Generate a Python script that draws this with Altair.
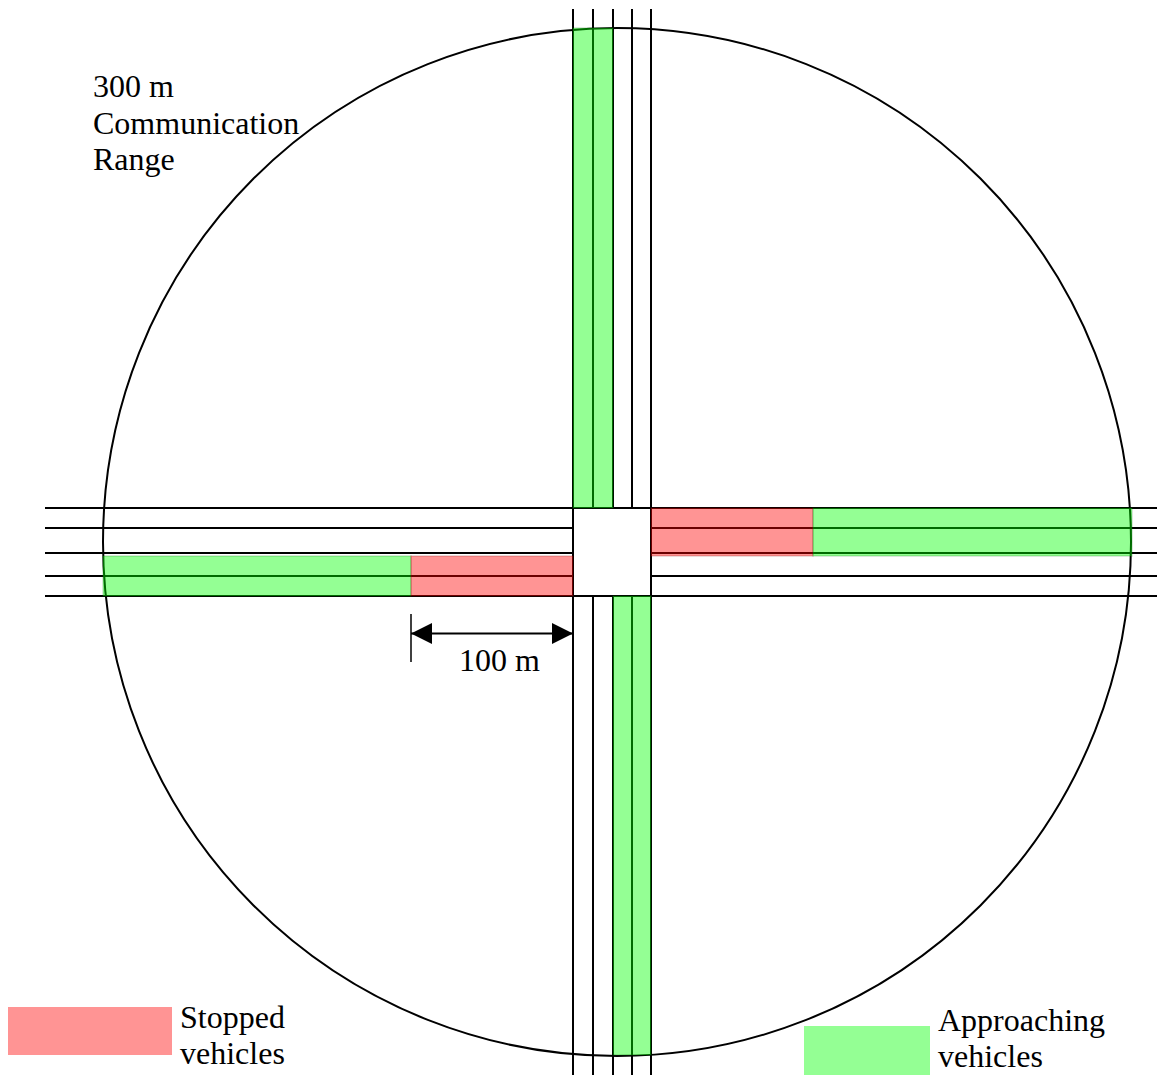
import altair as alt
import pandas as pd

# ---- diagram data (units: reference picture pixels) ----
# road lane lines (edges + dividers)
road_x = [573, 593, 613, 632, 651]      # north-south road
road_y = [508, 528, 553, 576, 596]      # east-west road
road_top, road_bottom = 9, 1084
road_left, road_right = 45, 1165

# communication range circle
range_cx, range_cy, range_r = 617, 542, 514

# vehicle zones along each approach
zone_status = ["Approaching", "Approaching", "Stopped", "Approaching", "Approaching", "Stopped"]
zone_x1 = [573, 613, 651, 813, 103, 411]
zone_x2 = [613, 651, 813, 1132, 411, 573]
zone_y1 = [28, 596, 508, 508, 556, 556]
zone_y2 = [508, 1055, 556, 556, 596, 596]

# 100 m dimension
dim_x1, dim_x2, dim_y = 411, 573, 633.5
dim_tick_y1, dim_tick_y2 = 614, 662

# legend patches
leg_status = ["Stopped", "Approaching"]
leg_x1 = [7, 804]
leg_x2 = [172, 930]
leg_y1 = [1007, 1026]
leg_y2 = [1055, 1075]

# labels (multi-line labels use "\n")
label_text = ["300 m\nCommunication\nRange", "100 m", "Stopped\nvehicles", "Approaching\nvehicles"]
label_x = [93, 459, 180, 938]
label_y = [97, 671, 1028, 1031]
label_lh = [36.5, 36.5, 36, 36]

# ---- build tables ----
segs = []
for x in road_x:
    if x in (road_x[0], road_x[-1]):
        segs.append((x, road_top, x, road_bottom))
    else:
        segs.append((x, road_top, x, road_y[0]))
        segs.append((x, road_y[-1], x, road_bottom))
for y in road_y:
    if y in (road_y[0], road_y[-1]):
        segs.append((road_left, y, road_right, y))
    else:
        segs.append((road_left, y, road_x[0], y))
        segs.append((road_x[-1], y, road_right, y))
segs_df = pd.DataFrame(segs, columns=["x", "y", "x2", "y2"])

zones_df = pd.DataFrame({"status": zone_status, "x": zone_x1, "x2": zone_x2,
                         "y": zone_y1, "y2": zone_y2})
legend_df = pd.DataFrame({"status": leg_status, "x": leg_x1, "x2": leg_x2,
                          "y": leg_y1, "y2": leg_y2})
labels_df = pd.DataFrame({"text": label_text, "x": label_x, "y": label_y, "lh": label_lh})
circle_df = pd.DataFrame({"x": [range_cx], "y": [range_cy]})
dim_df = pd.DataFrame({"x": [dim_x1], "x2": [dim_x2], "y": [dim_y], "y2": [dim_y]})
tick_df = pd.DataFrame({"x": [dim_x1], "x2": [dim_x1], "y": [dim_tick_y1], "y2": [dim_tick_y2]})
head = 21
heads_df = pd.DataFrame({"x": [dim_x1 + head / 2, dim_x2 - head / 2], "y": [dim_y, dim_y],
                         "dir": ["left", "right"]})

# page: 8px body margin; svg fills the rest of the 1165x1087 window
OFF = 8
SVG_W, SVG_H = 1149, 1067
xs = alt.Scale(domain=[OFF, OFF + SVG_W], nice=False, zero=False)
ys = alt.Scale(domain=[OFF, OFF + SVG_H], nice=False, zero=False, reverse=True)
X = lambda f="x": alt.X(f"{f}:Q", scale=xs, axis=None)
Y = lambda f="y": alt.Y(f"{f}:Q", scale=ys, axis=None)
color_scale = alt.Scale(domain=["Stopped", "Approaching"], range=["#ff0000", "#00ff00"])

roads = alt.Chart(segs_df).mark_rule(color="black", strokeWidth=2).encode(
    x=X(), y=Y(), x2="x2:Q", y2="y2:Q")

circle = alt.Chart(circle_df).mark_point(
    shape="circle", filled=False, color="black", strokeWidth=2, opacity=1,
    size=(2 * range_r) ** 2).encode(x=X(), y=Y())

zones = alt.Chart(zones_df).mark_rect(fillOpacity=0.42, strokeOpacity=0.2, strokeWidth=1.5).encode(
    x=X(), x2="x2:Q", y=Y(), y2="y2:Q",
    fill=alt.Fill("status:N", scale=color_scale, legend=None),
    stroke=alt.Stroke("status:N", scale=alt.Scale(domain=["Stopped", "Approaching"],
                                                  range=["#800000", "#006400"]), legend=None))

legend = alt.Chart(legend_df).mark_rect(fillOpacity=0.42).encode(
    x=X(), x2="x2:Q", y=Y(), y2="y2:Q",
    fill=alt.Fill("status:N", scale=color_scale, legend=None))

dim_line = alt.Chart(dim_df).mark_rule(color="black", strokeWidth=2).encode(
    x=X(), x2="x2:Q", y=Y(), y2="y2:Q")
dim_tick = alt.Chart(tick_df).mark_rule(color="black", strokeWidth=1.5).encode(
    x=X(), x2="x2:Q", y=Y(), y2="y2:Q")
head_l = alt.Chart(heads_df[heads_df.dir == "left"]).mark_point(
    shape="M -1 0 L 1 -1 L 1 1 Z", filled=True, color="black", opacity=1,
    size=head ** 2).encode(x=X(), y=Y())
head_r = alt.Chart(heads_df[heads_df.dir == "right"]).mark_point(
    shape="M 1 0 L -1 -1 L -1 1 Z", filled=True, color="black", opacity=1,
    size=head ** 2).encode(x=X(), y=Y())

label_layers = []
for i in range(len(labels_df)):
    label_layers.append(
        alt.Chart(labels_df.iloc[[i]]).mark_text(
            font="Liberation Serif", fontSize=32, align="left", baseline="alphabetic",
            color="black", lineBreak="\n", lineHeight=float(labels_df.lh.iloc[i])
        ).encode(x=X(), y=Y(), text="text:N")
    )

chart = alt.layer(roads, circle, zones, legend, dim_line, dim_tick, head_l, head_r,
                  *label_layers).properties(
    width=SVG_W, height=SVG_H, padding=0, autosize="none", background="white"
).configure_view(stroke=None)

chart.save("out.html", embed_options={"renderer": "svg", "actions": False})
